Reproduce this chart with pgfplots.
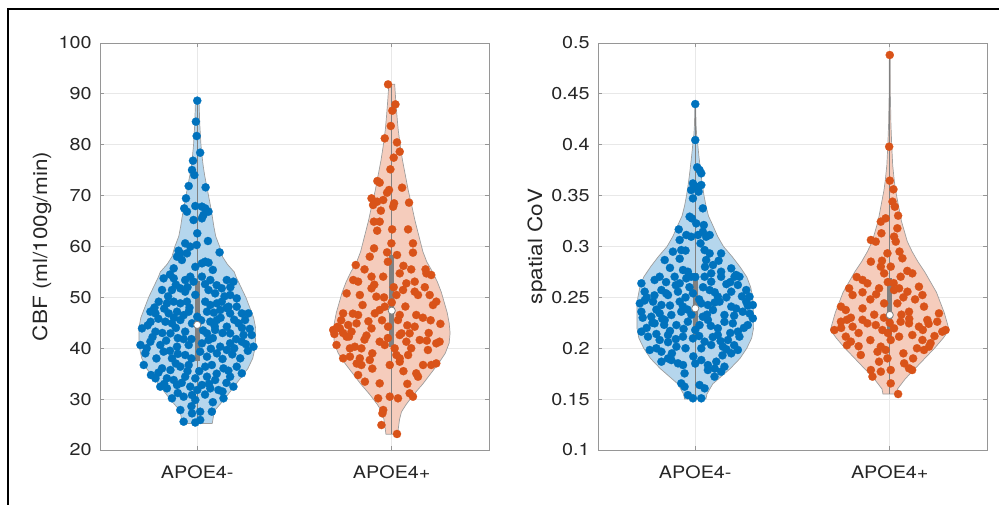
\documentclass[border=0pt]{standalone}
\usepackage{fontspec}
\setmainfont{TeX Gyre Heros}[FakeStretch=1.15]
\usepackage{pgfplots}
\usepackage{pgfplotstable}
\pgfplotsset{compat=1.18}

\definecolor{mblue}{RGB}{0,114,189}
\definecolor{morange}{RGB}{217,83,25}
\definecolor{vblue}{RGB}{181,214,237}
\definecolor{vorange}{RGB}{245,204,188}
\definecolor{axgray}{RGB}{150,150,150}
\definecolor{gridgray}{RGB}{232,232,232}
\definecolor{boxgray}{RGB}{128,128,128}

% individual subjects
\pgfplotstableread{
x y
1.000 88.67
0.993 84.54
0.997 81.72
1.015 78.44
0.978 76.87
0.973 75.04
0.985 74.05
0.956 71.89
1.043 71.63
0.942 69.47
0.933 67.50
0.947 66.85
0.990 67.96
1.024 67.83
1.041 67.50
1.058 66.85
1.032 66.19
1.024 65.54
0.981 65.21
1.000 62.59
1.055 61.08
0.938 60.62
0.964 59.97
0.997 60.30
0.904 59.18
0.913 58.66
0.896 58.00
0.921 57.35
0.947 58.66
1.115 58.85
1.041 57.02
1.058 56.82
1.024 56.69
0.879 55.71
0.827 53.74
0.879 53.74
0.938 53.41
0.964 54.07
0.981 53.09
1.024 54.07
1.067 53.41
1.152 53.41
1.186 53.09
0.819 51.45
0.870 51.45
0.913 51.78
0.938 51.12
1.058 51.45
1.092 50.79
1.126 51.78
1.169 50.47
1.203 49.81
0.802 49.16
0.844 48.83
0.879 49.16
0.913 48.83
0.947 49.16
1.041 49.16
1.067 48.50
1.101 48.83
1.126 49.16
1.161 48.17
1.203 48.17
0.759 47.19
0.785 46.86
0.853 46.86
0.896 47.19
0.956 47.19
1.050 47.19
1.118 47.52
1.169 46.86
1.229 46.86
1.263 46.86
0.836 45.22
0.870 44.90
0.913 45.55
0.973 44.90
1.067 45.22
1.101 45.55
1.152 44.24
1.212 44.90
1.246 45.55
0.716 43.91
0.785 43.26
0.862 42.93
0.938 43.26
1.050 42.93
1.092 43.59
1.169 42.93
1.238 42.60
1.280 42.60
0.708 40.64
0.759 41.29
0.810 40.64
0.896 40.31
0.956 40.64
1.024 40.97
1.058 41.62
1.118 40.31
1.169 40.97
1.229 41.29
1.289 40.31
0.733 39.00
0.827 39.33
0.870 38.02
0.938 38.67
1.015 39.33
1.050 38.35
1.101 39.00
1.152 39.66
1.221 38.02
0.725 36.71
0.819 36.05
0.862 35.72
0.913 36.38
0.956 36.71
1.041 36.38
1.075 36.71
1.135 36.05
1.203 36.38
0.762 34.74
0.785 34.09
0.844 34.09
0.879 33.76
0.938 34.41
0.990 34.09
1.050 34.41
1.092 33.76
1.169 34.41
1.229 35.07
0.810 32.45
0.844 32.12
0.896 32.78
0.964 32.45
1.024 32.78
1.067 32.12
1.109 31.79
1.186 32.45
0.870 30.16
0.930 30.48
0.973 30.81
0.990 29.83
1.135 30.16
0.913 27.86
0.973 27.20
1.015 27.53
1.075 27.53
0.930 25.57
0.990 25.40
1.015 25.90
0.745 44.50
0.800 45.80
0.890 44.00
1.000 46.20
1.120 46.00
1.190 45.60
1.270 43.80
0.770 42.20
0.840 41.50
0.930 41.80
1.080 42.00
1.200 41.80
0.790 38.00
0.900 38.90
1.130 37.90
1.260 39.50
0.850 50.20
0.990 50.50
1.140 50.20
0.890 52.50
1.040 52.60
0.960 48.00
1.085 47.00
0.950 35.50
1.100 35.00
0.830 33.00
1.150 33.20
1.040 30.90
0.970 28.60
1.080 29.40
0.780 48.00
0.830 47.80
0.880 46.00
0.930 46.50
1.020 45.50
1.090 44.30
1.150 47.90
1.230 44.00
0.760 45.20
0.820 43.00
0.900 42.00
0.970 41.80
1.030 43.50
1.130 43.00
1.190 40.00
1.250 40.80
0.740 40.00
0.860 39.50
0.970 38.00
1.070 39.90
1.180 38.80
0.800 35.20
0.890 37.00
1.010 35.50
1.160 35.60
0.920 33.20
1.060 33.00
1.130 31.50
0.900 31.20
1.000 31.80
0.950 52.00
1.100 52.40
1.170 52.00
0.860 54.50
0.990 56.00
1.080 55.40
}\ptsLA

\pgfplotstableread{
x y
1.981 91.87
2.019 87.94
2.003 86.70
1.995 83.69
1.964 81.26
2.027 80.47
2.041 78.64
2.010 77.46
1.993 75.17
1.926 72.87
1.938 72.55
2.053 71.56
1.986 71.11
1.976 70.58
1.896 69.47
1.904 68.16
1.925 68.81
1.956 69.14
2.012 68.49
2.007 67.83
2.089 68.62
1.944 67.04
1.908 64.88
1.938 64.88
1.925 63.11
2.002 63.37
2.084 63.37
1.909 59.64
1.998 60.62
2.109 60.62
1.887 58.00
1.976 58.85
2.027 58.33
2.109 58.79
1.815 56.36
2.174 55.51
1.802 53.41
1.827 53.09
1.896 54.07
1.956 54.07
2.041 54.72
2.075 52.76
2.118 53.09
2.178 54.72
2.203 54.40
1.768 50.79
1.836 50.47
1.896 51.78
1.921 50.14
2.024 50.47
2.058 51.45
2.118 51.12
2.135 50.47
2.195 50.47
2.229 49.16
1.750 46.86
1.827 46.54
1.913 46.86
1.938 47.52
1.964 48.17
2.041 46.54
2.126 46.54
2.212 48.50
1.699 43.59
1.733 43.91
1.776 44.57
1.793 43.26
1.819 44.90
1.896 43.91
1.981 44.24
2.032 45.55
2.050 42.93
2.092 42.93
2.118 44.24
2.144 41.62
2.229 40.97
2.246 41.29
1.716 40.64
1.768 42.28
1.785 39.98
1.844 39.98
1.938 41.29
1.964 40.64
2.015 39.98
2.041 42.60
2.075 41.29
2.186 39.66
1.750 38.02
1.785 38.35
1.836 38.02
1.844 36.71
1.887 37.69
2.024 38.67
2.041 38.02
2.084 38.67
2.161 36.71
2.203 36.71
2.229 37.03
1.827 34.74
1.862 33.43
1.990 36.71
2.041 37.36
2.135 34.41
2.126 35.07
1.938 33.10
1.930 30.16
1.990 30.48
2.032 30.16
2.092 31.14
2.109 30.48
1.956 27.86
1.952 27.20
1.947 24.91
2.027 23.15
1.720 44.20
1.750 43.00
1.780 42.30
1.705 42.80
1.810 40.30
1.860 41.70
1.950 45.50
2.000 49.00
2.070 48.20
2.160 46.00
2.190 43.00
2.250 44.80
1.850 48.50
1.910 52.50
2.100 55.50
1.980 57.00
2.060 56.20
1.900 36.00
2.080 33.00
1.880 45.30
1.740 45.50
1.800 46.80
1.870 42.50
1.980 42.00
2.100 40.00
2.180 41.50
2.200 45.50
1.900 39.00
1.820 37.00
2.060 35.50
1.960 50.00
2.170 52.00
1.860 55.50
2.010 52.00
2.080 44.50
}\ptsLB

\pgfplotstableread{
x y
1.000 0.4400
1.000 0.4046
1.010 0.3778
1.022 0.3752
1.031 0.3719
0.988 0.3620
1.005 0.3588
1.031 0.3604
0.979 0.3555
1.017 0.3539
0.988 0.3473
1.039 0.3375
0.971 0.3293
0.983 0.3276
1.005 0.3227
1.044 0.3211
0.915 0.3168
1.039 0.3145
1.014 0.3113
1.074 0.3113
1.056 0.3096
0.979 0.3096
0.954 0.3113
1.027 0.3031
0.920 0.3064
0.885 0.2949
0.928 0.2965
1.048 0.2965
1.074 0.2932
1.133 0.2932
1.056 0.2867
1.091 0.2818
1.185 0.2785
0.843 0.2867
0.937 0.2769
0.962 0.2752
0.979 0.2703
1.082 0.2736
1.133 0.2752
1.210 0.2720
1.227 0.2703
0.817 0.2703
0.723 0.2638
0.791 0.2671
0.894 0.2703
0.920 0.2638
0.954 0.2687
1.048 0.2703
1.082 0.2654
1.133 0.2703
1.202 0.2703
1.219 0.2622
0.740 0.2556
0.826 0.2572
0.860 0.2523
0.911 0.2556
0.988 0.2540
1.074 0.2572
1.116 0.2507
1.185 0.2556
1.262 0.2572
1.279 0.2507
0.715 0.2441
0.783 0.2458
0.826 0.2425
0.920 0.2458
0.937 0.2409
1.031 0.2441
1.065 0.2425
1.125 0.2458
1.185 0.2409
1.262 0.2458
1.296 0.2425
0.723 0.2359
0.774 0.2310
0.817 0.2343
0.877 0.2327
0.928 0.2359
1.039 0.2310
1.091 0.2376
1.150 0.2327
1.244 0.2359
1.296 0.2294
0.723 0.2163
0.791 0.2245
0.843 0.2278
0.903 0.2228
0.962 0.2261
1.022 0.2228
1.065 0.2278
1.116 0.2196
1.193 0.2245
1.219 0.2163
1.270 0.2228
0.757 0.2114
0.817 0.2081
0.860 0.2130
0.937 0.2114
0.988 0.2097
1.048 0.2065
1.116 0.2130
1.168 0.2081
1.227 0.2114
0.766 0.1983
0.826 0.1966
0.903 0.2016
1.031 0.1999
1.082 0.2032
1.142 0.2016
1.185 0.1950
1.219 0.1983
0.826 0.1868
0.877 0.1884
0.911 0.1852
0.937 0.1835
1.031 0.1884
1.065 0.1835
1.108 0.1868
1.150 0.1819
0.945 0.1753
1.065 0.1786
1.099 0.1721
1.133 0.1770
0.928 0.1655
0.945 0.1622
1.022 0.1639
1.048 0.1606
0.962 0.1540
0.988 0.1508
1.031 0.1508
0.750 0.2500
0.800 0.2380
0.870 0.2420
0.980 0.2330
1.100 0.2450
1.210 0.2390
1.280 0.2340
0.780 0.2250
0.870 0.2170
1.000 0.2180
1.150 0.2260
1.250 0.2200
0.860 0.2060
1.090 0.2110
1.200 0.2030
0.880 0.1950
0.990 0.1920
1.140 0.1930
0.970 0.2600
1.160 0.2630
0.850 0.2650
1.050 0.2800
0.920 0.2880
1.100 0.2550
0.950 0.2960
0.740 0.2470
0.790 0.2520
0.850 0.2540
0.950 0.2500
1.020 0.2480
1.160 0.2500
1.240 0.2510
0.730 0.2300
0.830 0.2290
0.960 0.2380
1.060 0.2330
1.200 0.2320
1.270 0.2420
0.750 0.2200
0.840 0.2230
0.940 0.2190
1.080 0.2220
1.180 0.2150
0.800 0.2140
0.900 0.2090
1.020 0.2120
1.130 0.2070
0.800 0.2000
0.950 0.2000
1.160 0.1990
0.860 0.1900
1.000 0.1850
1.100 0.1800
1.040 0.2600
0.900 0.2620
1.180 0.2650
1.000 0.2700
0.870 0.2790
1.120 0.2860
}\ptsRA

\pgfplotstableread{
x y
2.000 0.4882
1.997 0.3981
2.000 0.3647
2.019 0.3562
2.014 0.3441
2.026 0.3391
2.043 0.3303
1.979 0.3277
1.954 0.3244
2.039 0.3179
1.957 0.3130
2.022 0.3097
2.031 0.3048
1.903 0.3064
1.928 0.3048
1.988 0.2933
2.065 0.2884
1.903 0.2851
1.954 0.2802
2.005 0.2802
1.860 0.2671
1.885 0.2638
1.971 0.2736
2.056 0.2703
2.116 0.2736
1.791 0.2589
1.809 0.2523
1.945 0.2589
2.022 0.2572
2.048 0.2589
2.091 0.2556
2.150 0.2605
2.168 0.2523
1.971 0.2441
1.749 0.2409
1.774 0.2376
1.860 0.2392
2.039 0.2441
2.099 0.2359
2.176 0.2409
2.253 0.2343
1.715 0.2179
1.749 0.2261
1.809 0.2212
1.885 0.2245
1.928 0.2228
1.962 0.2179
2.022 0.2196
2.056 0.2261
2.099 0.2245
2.150 0.2212
2.193 0.2278
2.244 0.2261
2.270 0.2163
2.287 0.2179
1.774 0.2114
1.800 0.2065
1.851 0.1934
1.937 0.1966
1.954 0.2016
1.979 0.1983
2.005 0.2081
2.048 0.2114
2.116 0.2130
2.168 0.2081
2.202 0.2016
2.176 0.1983
1.903 0.1786
1.945 0.1868
1.988 0.1901
2.074 0.1852
2.099 0.1803
2.115 0.1786
1.911 0.1721
1.954 0.1770
2.005 0.1786
2.005 0.1655
2.043 0.1550
1.800 0.2300
1.920 0.2330
2.100 0.2290
2.200 0.2240
1.750 0.2200
1.840 0.2150
2.000 0.2250
2.140 0.2000
2.230 0.2120
1.780 0.2030
1.900 0.2080
2.070 0.1950
1.860 0.2550
2.020 0.2640
2.130 0.2480
1.900 0.2480
1.960 0.2860
2.050 0.2950
2.090 0.2760
1.830 0.2700
1.780 0.2280
1.860 0.2280
1.970 0.2300
2.060 0.2330
2.170 0.2180
2.210 0.2050
1.840 0.2020
1.990 0.2150
2.120 0.1900
1.930 0.2530
2.070 0.2500
1.990 0.2650
}\ptsRB

\pgfplotsset{
  violinax/.style={
    scale only axis, width=194.5pt, height=203.5pt,
    xmin=0.5, xmax=2.5, xtick={1,2}, xticklabels={APOE4-,APOE4+},
    axis line style={axgray, line width=0.5pt},
    tick style={axgray, line width=0.5pt}, major tick length=2.2pt,
    tick align=inside,
    grid=major, grid style={gridgray, line width=0.5pt},
    /pgf/number format/assume math mode=true,
    tick label style={font=\fontsize{8.6}{10}\selectfont, text=black!85},
    xticklabel style={yshift=-4.4pt},
    yticklabel style={xshift=-0.6pt},
    label style={font=\fontsize{9.8}{11}\selectfont, text=black!85},
  },
  violin/.style={fill=#1, draw=black!38, line width=0.35pt},
  dots/.style={only marks, color=#1, mark=*, mark size=2.05pt, mark options={fill=#1, draw=#1, line width=0.1pt}},
  whisk/.style={boxgray, line width=0.4pt},
  iqr/.style={boxgray, line width=2.5pt},
  med/.style={only marks, mark=*, mark size=1.8pt, mark options={fill=white, draw=boxgray, line width=0.4pt}},
}

\begin{document}
\begin{tikzpicture}

\begin{axis}[violinax, at={(50pt,27pt)}, anchor=south west,
  ymin=20, ymax=100, ytick={20,30,...,100},
  ylabel={CBF (ml/100g/min)},
  ylabel style={at={(axis description cs:-0.149,0.5)}, anchor=center}]
  % APOE4- violin outline (right side up, left side down)
  \addplot[violin=vblue] coordinates {
    (1.077,25.2) (1.085,27) (1.095,28) (1.14,30) (1.18,32) (1.22,34) (1.26,36)
    (1.285,38) (1.297,40) (1.30,42) (1.30,44) (1.29,46) (1.27,48) (1.25,50)
    (1.225,52) (1.20,54) (1.19,55) (1.155,56.5) (1.13,58) (1.115,60) (1.095,62)
    (1.085,64) (1.077,66) (1.068,68) (1.058,70) (1.048,72) (1.038,74) (1.030,76)
    (1.024,78) (1.019,80) (1.013,84) (1.009,88.7)
    (0.991,88.7) (0.987,84) (0.981,80) (0.976,78) (0.970,76) (0.962,74) (0.952,72)
    (0.942,70) (0.932,68) (0.923,66) (0.915,64) (0.905,62) (0.885,60) (0.87,58)
    (0.845,56.5) (0.81,55) (0.80,54) (0.775,52) (0.75,50) (0.73,48) (0.71,46)
    (0.70,44) (0.70,42) (0.703,40) (0.715,38) (0.74,36) (0.78,34) (0.82,32)
    (0.86,30) (0.905,28) (0.915,27) (0.923,25.2) (1.077,25.2)};
  % APOE4+ violin outline
  \addplot[violin=vorange] coordinates {
    (2.030,23.1) (2.033,24) (2.040,26) (2.050,27.5) (2.075,29) (2.115,31) (2.16,33)
    (2.20,35) (2.24,37) (2.275,39) (2.295,41) (2.30,43) (2.295,45) (2.285,47)
    (2.27,49) (2.255,51) (2.235,53) (2.21,55) (2.18,57) (2.16,59) (2.14,62)
    (2.12,65) (2.103,68) (2.085,71) (2.070,74) (2.055,77) (2.043,80) (2.033,83)
    (2.026,86) (2.020,89) (2.015,91.9)
    (1.985,91.9) (1.980,89) (1.974,86) (1.967,83) (1.957,80) (1.945,77) (1.930,74)
    (1.915,71) (1.897,68) (1.88,65) (1.86,62) (1.84,59) (1.82,57) (1.79,55)
    (1.765,53) (1.745,51) (1.73,49) (1.715,47) (1.705,45) (1.70,43) (1.705,41)
    (1.725,39) (1.76,37) (1.80,35) (1.84,33) (1.885,31) (1.925,29) (1.950,27.5)
    (1.960,26) (1.967,24) (1.970,23.1) (2.030,23.1)};

  \addplot[dots=mblue] table{\ptsLA};
  \addplot[dots=morange] table{\ptsLB};

  \addplot[whisk] coordinates {(1,25.3) (1,88.7)};
  \addplot[whisk] coordinates {(2,23.1) (2,91.9)};
  \addplot[iqr] coordinates {(1,37.4) (1,53.3)};
  \addplot[iqr] coordinates {(2,40.2) (2,58.3)};
  \addplot[med] coordinates {(1,44.6) (2,47.4)};
\end{axis}

\begin{axis}[violinax, at={(299pt,27pt)}, anchor=south west,
  ymin=0.1, ymax=0.5, ytick={0.1,0.15,0.2,0.25,0.3,0.35,0.4,0.45,0.5},
  yticklabel style={/pgf/number format/fixed, /pgf/number format/precision=2},
  ylabel={spatial CoV},
  ylabel style={at={(axis description cs:-0.157,0.5)}, anchor=center}]
  % APOE4- violin outline
  \addplot[violin=vblue] coordinates {
    (1.055,.150) (1.06,.155) (1.075,.160) (1.09,.165) (1.12,.170) (1.15,.175)
    (1.18,.180) (1.23,.190) (1.265,.200) (1.29,.210) (1.30,.220) (1.30,.230)
    (1.30,.240) (1.295,.250) (1.285,.260) (1.265,.270) (1.23,.280) (1.19,.290)
    (1.145,.300) (1.115,.310) (1.092,.320) (1.068,.330) (1.055,.340) (1.045,.350)
    (1.037,.360) (1.030,.370) (1.024,.380) (1.018,.390) (1.013,.400) (1.010,.405)
    (1.007,.410) (1.004,.420) (1.002,.440)
    (0.998,.440) (0.996,.420) (0.993,.410) (0.990,.405) (0.987,.400) (0.982,.390)
    (0.976,.380) (0.970,.370) (0.963,.360) (0.955,.350) (0.945,.340) (0.932,.330)
    (0.908,.320) (0.885,.310) (0.855,.300) (0.81,.290) (0.77,.280) (0.735,.270)
    (0.715,.260) (0.705,.250) (0.70,.240) (0.70,.230) (0.70,.220) (0.71,.210)
    (0.735,.200) (0.77,.190) (0.82,.180) (0.85,.175) (0.88,.170) (0.91,.165)
    (0.925,.160) (0.94,.155) (0.945,.150) (1.055,.150)};
  % APOE4+ violin outline
  \addplot[violin=vorange] coordinates {
    (2.035,.155) (2.04,.160) (2.06,.165) (2.08,.170) (2.105,.175) (2.13,.180)
    (2.18,.190) (2.23,.200) (2.275,.210) (2.305,.218) (2.295,.225) (2.28,.235)
    (2.26,.245) (2.24,.255) (2.21,.265) (2.18,.275) (2.145,.285) (2.115,.295)
    (2.09,.305) (2.075,.315) (2.06,.325) (2.05,.335) (2.04,.345) (2.03,.355)
    (2.023,.365) (2.015,.380) (2.010,.400) (2.006,.420) (2.003,.450) (2.002,.488)
    (1.998,.488) (1.997,.450) (1.994,.420) (1.990,.400) (1.985,.380) (1.977,.365)
    (1.97,.355) (1.96,.345) (1.95,.335) (1.94,.325) (1.925,.315) (1.91,.305)
    (1.885,.295) (1.855,.285) (1.82,.275) (1.79,.265) (1.76,.255) (1.74,.245)
    (1.72,.235) (1.705,.225) (1.695,.218) (1.725,.210) (1.77,.200) (1.82,.190)
    (1.87,.180) (1.895,.175) (1.92,.170) (1.94,.165) (1.96,.160) (1.965,.155)
    (2.035,.155)};

  \addplot[dots=mblue] table{\ptsRA};
  \addplot[dots=morange] table{\ptsRB};

  \addplot[whisk] coordinates {(1,0.150) (1,0.440)};
  \addplot[whisk] coordinates {(2,0.155) (2,0.488)};
  \addplot[iqr] coordinates {(1,0.2097) (1,0.2736)};
  \addplot[iqr] coordinates {(2,0.2114) (2,0.2687)};
  \addplot[med] coordinates {(1,0.2392) (2,0.2327)};
\end{axis}

\draw[line width=1pt] (3.75pt,-5pt) |- (510pt,247.5pt);
\pgfresetboundingbox
\useasboundingbox (0,0) rectangle (499.5pt,252pt);
\end{tikzpicture}
\end{document}
